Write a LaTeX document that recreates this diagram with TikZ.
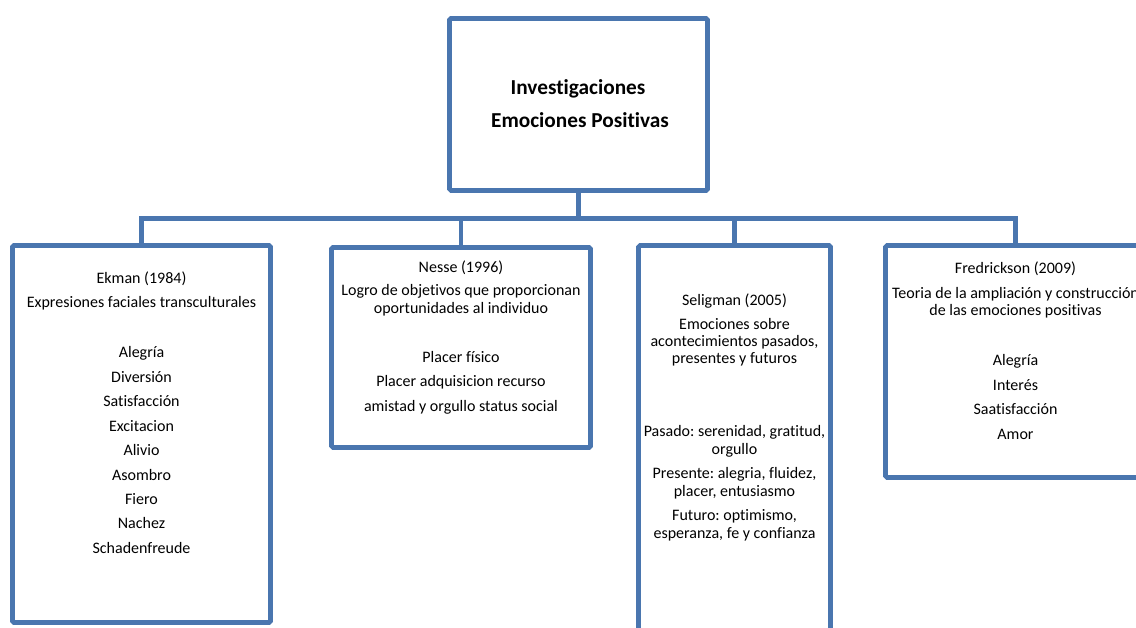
\documentclass[tikz,border=0pt]{standalone}
\usepackage{fontspec}
\setmainfont[Ligatures={NoCommon}]{Carlito}
\frenchspacing
\definecolor{frame}{RGB}{74,118,175}
\tikzset{
  box/.style={draw=frame, line width=4.6pt, rounded corners=1.5pt, fill=white, inner sep=0pt, outer sep=0pt},
  wire/.style={draw=frame, line width=4.8pt},
  txt/.style={anchor=base, inner sep=0pt, font=\fontsize{16}{19}\selectfont},
  title/.style={anchor=base, inner sep=0pt, font=\fontsize{21.3}{25}\selectfont\bfseries},
}
\begin{document}
\begin{tikzpicture}[x=1pt,y=-1pt]
\useasboundingbox (0,0) rectangle (1136,628);
\clip (0,0) rectangle (1136,628);

% boxes
\node[box, minimum width=258pt, minimum height=172pt] (top) at (578.5,104.5) {};
\node[box, minimum width=258pt, minimum height=377pt] (ekman) at (141.5,434) {};
\node[box, minimum width=259pt, minimum height=200pt] (nesse) at (461,347.5) {};
\node[box, minimum width=192pt, minimum height=400pt] (selig) at (734.5,445.5) {};
\node[box, minimum width=260pt, minimum height=232pt] (fred) at (1015.5,361.5) {};

% connectors
\coordinate (bus) at (578.5,218.5);
\draw[wire] (top.south) -- (bus);
\draw[wire] (bus) -| (ekman.north);
\draw[wire] (bus) -| (nesse.north);
\draw[wire] (bus) -| (selig.north);
\draw[wire] (bus) -| (fred.north);

% title
\node[title] (t1) at (578,95) {Investigaciones};
\node[title] (t2) at (580,128) {Emociones Positivas};

% Ekman
\node[txt] (ek-a) at (141.5,284) {Ekman (1984)};
\node[txt] (ek-b) at (141.5,308) {Expresiones faciales transculturales};
\foreach \t [count=\i] in {Alegría, Diversión, Satisfacción, Excitacion, Alivio, Asombro, Fiero, Nachez, Schadenfreude}
  \node[txt] (ek-\i) at (141.5,{358+24.4*(\i-1)}) {\t};

% Nesse
\node[txt] (ne-a) at (461,273) {Nesse (1996)};
\node[txt] (ne-b) at (461,296) {Logro de objetivos que proporcionan};
\node[txt] (ne-c) at (461,314) {oportunidades al individuo};
\node[txt] (ne-1) at (461,363) {Placer físico};
\node[txt] (ne-2) at (461,387) {Placer adquisicion recurso};
\node[txt] (ne-3) at (461,411) {amistad y orgullo status social};

% Seligman
\node[txt] (se-a) at (734.5,306) {Seligman (2005)};
\node[txt] (se-b) at (734.5,330) {Emociones sobre};
\node[txt] (se-c) at (734.5,347) {acontecimientos pasados,};
\node[txt] (se-d) at (734.5,364) {presentes y futuros};
\node[txt] (se-1) at (734.5,436) {Pasado: serenidad, gratitud,};
\node[txt] (se-2) at (734.5,454) {orgullo};
\node[txt] (se-3) at (734.5,478) {Presente: alegria, fluidez,};
\node[txt] (se-4) at (734.5,496) {placer, entusiasmo};
\node[txt] (se-5) at (734.5,520) {Futuro: optimismo,};
\node[txt] (se-6) at (734.5,538) {esperanza, fe y confianza};

% Fredrickson
\node[txt] (fr-a) at (1015.5,274) {Fredrickson (2009)};
\node[txt] (fr-b) at (1015.5,299) {Teoria de la ampliación y construcción};
\node[txt] (fr-c) at (1015.5,316) {de las emociones positivas};
\foreach \t [count=\i] in {Alegría, Interés, Saatisfacción, Amor}
  \node[txt] (fr-\i) at (1015.5,{366+24.4*(\i-1)}) {\t};
\end{tikzpicture}
\end{document}
